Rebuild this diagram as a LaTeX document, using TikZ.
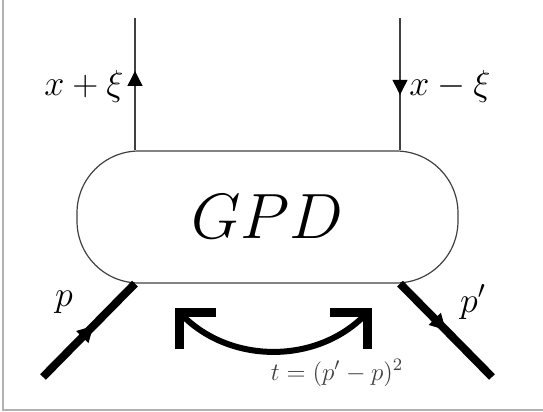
\RequirePackage{fix-cm}
\documentclass[tikz,border=0pt]{standalone}
\usetikzlibrary{arrows.meta,decorations.markings}

\begin{document}
\begin{tikzpicture}[x=0.5pt,y=-0.5pt,every node/.style={font=\fontsize{18}{22}\selectfont},
  thin line/.style={black!75,line width=0.6pt},
  leg/.style={line width=4pt},
  blob/.style={draw=black!75,line width=0.6pt,rounded corners=31pt,minimum width=190.5pt,minimum height=66pt,inner sep=0pt},
  quark arrow/.style={postaction={decorate},decoration={markings,mark=at position #1 with {\arrow[black]{Triangle[width=7.5pt,length=7.5pt]}}}},
  proton arrow/.style={postaction={decorate},decoration={markings,mark=at position #1 with {\arrow{Triangle[width=8pt,length=8pt]}}}},
  swing/.style={line width=3pt,line join=miter,{Straight Barb[angle=90:18.5pt,line width=4.5pt]}-{Straight Barb[angle=90:18.5pt,line width=4.5pt]}}]
\useasboundingbox (0,0) rectangle (543,412);
% frame of the screenshot
\draw[black!30,line width=0.8pt] (3,0) -- (3,410) -- (543,410);
% the blob
\node[blob] (gpd) at (267.5,217) {\fontsize{32}{38}\selectfont$GPD$};
% quark lines
\coordinate (qin) at (135,18);
\coordinate (qout) at (400,18);
\draw[thin line,quark arrow=0.6] (qin |- gpd.north) -- (qin);
\draw[thin line,quark arrow=0.58] (qout) -- (qout |- gpd.north);
\node (xin) at (84,87) {$x+\xi$};
\node (xout) at (450,87) {$x-\xi$};
% proton lines
\coordinate (pin) at (43,377);
\coordinate (pout) at (492,377);
\draw[leg,proton arrow=0.55] (pin) -- (qin |- gpd.south);
\draw[leg,proton arrow=0.5] (qout |- gpd.south) -- (pout);
\node (p) at (64,302) {$p$};
\node (pp) at (473,302) {$p'$};
% momentum transfer
\coordinate (tl) at (175,308);
\coordinate (tr) at (372,308);
\draw[swing] (tl) .. controls +(56,56) and +(-56,56) .. (tr);
\node[font=\fontsize{12.5}{15}\selectfont,text=black!75] (t) at (337,373) {$t=(p'-p)^2$};
\end{tikzpicture}
\end{document}
